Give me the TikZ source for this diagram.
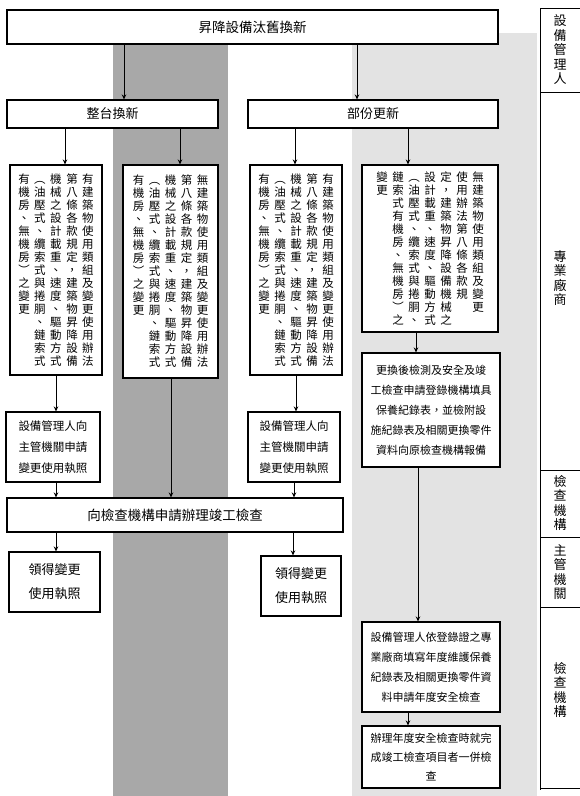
\documentclass[tikz,border=0pt]{standalone}
\usepackage{fontspec}
\setmainfont{Noto Sans CJK TC}
\usetikzlibrary{arrows.meta}
\def\vtextA#1{\ifx\relax#1\else\hbox to 11.5pt{\hss#1\hss}\expandafter\vtextA\fi}
\newcommand\vcol[1]{\vtop{\baselineskip=13pt\lineskiplimit=-20pt\lineskip=0pt\vtextA#1\relax}}
\def\vlabA#1{\ifx\relax#1\else\hbox to 13pt{\hss#1\hss}\expandafter\vlabA\fi}
\newcommand\vlab[1]{\vbox{\baselineskip=14.5pt\lineskiplimit=-20pt\lineskip=0pt\vlabA#1\relax}}
\newcommand\cg{\hskip4.5pt}
\tikzset{
  box/.style={draw, line width=1.1pt, fill=white, inner sep=0pt, align=center},
  hbox/.style={box, font=\fontsize{11.5}{21}\selectfont},
  vbx/.style={box, font=\fontsize{11.5}{13}\selectfont},
  arr/.style={line width=1pt, -{Stealth[length=5pt,width=4.5pt]}},
  lab/.style={font=\fontsize{13}{16}\selectfont, inner sep=0pt},
  rule/.style={line width=1pt}
}
\begin{document}
\begin{tikzpicture}[x=1pt,y=-1pt]
\useasboundingbox (0,0) rectangle (580,796);
% stipple bands
\fill[black!34] (113,44) rectangle (228,796);
\fill[black!11] (352,33) rectangle (537,796);
% label column
\draw[rule] (580,8) -- (540,8) -- (540,790);
\draw[rule] (540,92) -- (580,92);
\draw[rule] (540,470) -- (580,470);
\draw[rule] (540,537) -- (580,537);
\draw[rule] (540,607) -- (580,607);
\draw[rule] (540,788) -- (580,788);
\node[lab] (l1) at (560,50) {\vlab{設備管理人}};
\node[lab] (l2) at (560,278) {\vlab{專業廠商}};
\node[lab] (l3) at (560,503) {\vlab{檢查機構}};
\node[lab] (l4) at (560,572) {\vlab{主管機關}};
\node[lab] (l5) at (560,690) {\vlab{檢查機構}};
% top boxes
\node[box, minimum width=491pt, minimum height=34pt, font=\fontsize{13.5}{16}\selectfont] (top) at (252.5,27) {昇降設備汰舊換新};
\node[box, minimum width=211pt, minimum height=28pt, font=\fontsize{13}{16}\selectfont] (zt) at (112.5,114) {整台換新};
\node[box, minimum width=250pt, minimum height=28pt, font=\fontsize{13}{16}\selectfont] (bf) at (373,114) {部份更新};
% vertical text boxes
\node[vbx, minimum width=92pt, minimum height=210pt] (b1) at (56,270) {\hbox{\vcol{有機房、無機房︶之變更}\cg\vcol{︵油壓式、纜索式與捲胴、鏈索式}\cg\vcol{機械之設計載重、速度、驅動方式}\cg\vcol{第八條各款規定，建築物昇降設備}\cg\vcol{有建築物使用類組及變更使用辦法}}};
\node[vbx, minimum width=95pt, minimum height=213pt] (b2) at (170.5,271.5) {\hbox{\vcol{有機房、無機房︶之變更}\cg\vcol{︵油壓式、纜索式與捲胴、鏈索式}\cg\vcol{機械之設計載重、速度、驅動方式}\cg\vcol{第八條各款規定，建築物昇降設備}\cg\vcol{無建築物使用類組及變更使用辦法}}};
\node[vbx, minimum width=92pt, minimum height=210pt] (b3) at (296,270) {\hbox{\vcol{有機房、無機房︶之變更}\cg\vcol{︵油壓式、纜索式與捲胴、鏈索式}\cg\vcol{機械之設計載重、速度、驅動方式}\cg\vcol{第八條各款規定，建築物昇降設備}\cg\vcol{有建築物使用類組及變更使用辦法}}};
\node[vbx, minimum width=136pt, minimum height=167pt] (b4) at (430,248.5) {\hbox{\vcol{變更}\cg\vcol{鏈索式有機房、無機房︶之}\cg\vcol{︵油壓式、纜索式與捲胴、}\cg\vcol{設計載重、速度、驅動方式}\cg\vcol{定，建築物昇降設備機械之}\cg\vcol{使用辦法第八條各款規}\cg\vcol{無建築物使用類組及變更}}};
% horizontal text boxes
\node[hbox, minimum width=94pt, minimum height=70pt] (c1) at (53,447) {設備管理人向\\主管機關申請\\變更使用執照};
\node[hbox, minimum width=92pt, minimum height=70pt] (c3) at (294,447) {設備管理人向\\主管機關申請\\變更使用執照};
\node[hbox, minimum width=336pt, minimum height=34pt, font=\fontsize{13.5}{16}\selectfont] (big) at (175,515) {向檢查機構申請辦理竣工檢查};
\node[hbox, minimum width=91pt, minimum height=60pt, font=\fontsize{13}{24}\selectfont] (g1) at (54.5,582) {領得變更\\使用執照};
\node[hbox, minimum width=80pt, minimum height=60pt, font=\fontsize{13}{24}\selectfont] (g2) at (301,586) {領得變更\\使用執照};
\node[hbox, minimum width=138pt, minimum height=114pt, font=\fontsize{11}{20}\selectfont] (b5) at (431,410) {更換後檢測及安全及竣\\工檢查申請登錄機構填具\\保養紀錄表，並檢附設\\施紀錄表及相關更換零件\\資料向原檢查機構報備};
\node[hbox, minimum width=138pt, minimum height=90pt, font=\fontsize{11}{20}\selectfont] (b6) at (431,667) {設備管理人依登錄證之專\\業廠商填寫年度維護保養\\紀錄表及相關更換零件資\\料申請年度安全檢查};
\node[hbox, minimum width=138pt, minimum height=62pt, font=\fontsize{11}{19}\selectfont] (b7) at (431,757) {辦理年度安全檢查時就完\\成竣工檢查項目者一併檢\\查};
% connectors
\draw[arr] (top.south -| 124,0) -- (zt.north -| 124,0);
\draw[arr] (top.south -| 357,0) -- (bf.north -| 357,0);
\draw[arr] (zt.south -| 65,0) -- (b1.north -| 65,0);
\draw[arr] (zt.south -| 180,0) -- (b2.north -| 180,0);
\draw[arr] (bf.south -| 295,0) -- (b3.north -| 295,0);
\draw[arr] (bf.south -| 408,0) -- (b4.north -| 408,0);
\draw[arr] (b1.south -| 56,0) -- (c1.north -| 56,0);
\draw[arr] (b3.south -| 296,0) -- (c3.north -| 296,0);
\draw[arr] (b2.south -| 171,0) -- (big.north -| 171,0);
\draw[arr] (c1.south -| 56,0) -- (big.north -| 56,0);
\draw[arr] (c3.south -| 294,0) -- (big.north -| 294,0);
\draw[arr] (big.south -| 56,0) -- (g1.north -| 56,0);
\draw[arr] (big.south -| 293,0) -- (g2.north -| 293,0);
\draw[arr] (b4.south -| 416,0) -- (b5.north -| 416,0);
\draw[arr] (b5.south -| 418,0) -- (b6.north -| 418,0);
\draw[arr] (b6.south -| 408,0) -- (b7.north -| 408,0);
\end{tikzpicture}
\end{document}
